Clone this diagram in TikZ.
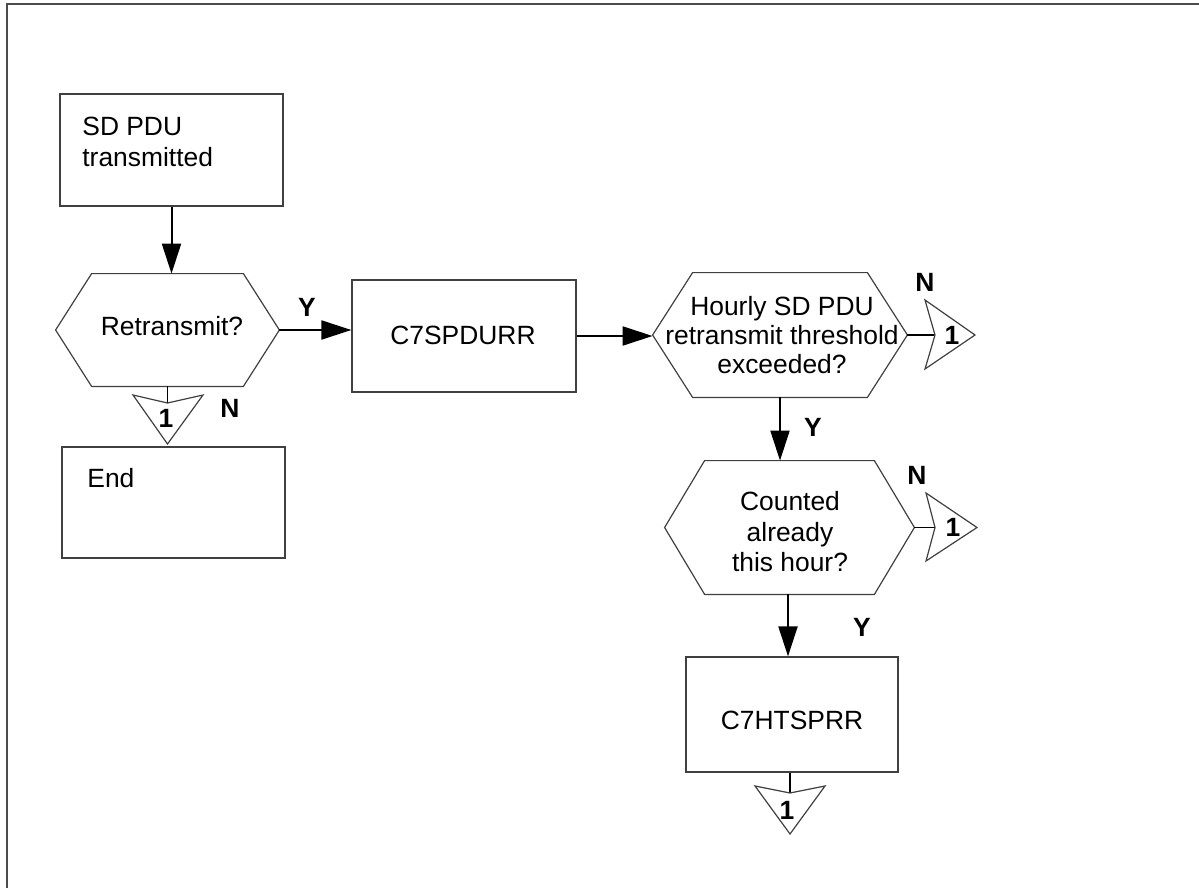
\documentclass[tikz,border=0pt]{standalone}
\usepackage{fontspec}
\setmainfont{Liberation Sans}
\usetikzlibrary{arrows.meta}
\begin{document}
\begin{tikzpicture}[x=0.5pt,y=-0.5pt,
  shapeline/.style={draw=black!75, line width=0.6pt, line join=miter},
  boxst/.style={shapeline, rectangle, inner sep=0pt},
  hexbase/.style={rectangle, inner sep=0pt},
  txt/.style={inner sep=0pt, font=\fontsize{13.2}{15}\selectfont, text=black},
  lbl/.style={inner sep=0pt, font=\fontsize{13.2}{15}\selectfont\bfseries, text=black},
  flow/.style={line width=1pt, -{Triangle[length=15pt,width=9.5pt]}},
  stem/.style={line width=0.8pt},
]
\useasboundingbox (0,0) rectangle (1199,888);
\draw[draw=black!70, line width=1pt] (6.5,888) -- (6.5,4) -- (1199,4);

% box 1
\node[boxst, minimum width=111.5pt, minimum height=56pt] (b1) at (171.5,150) {};
\node[txt, anchor=west, align=left, font=\fontsize{13.2}{15.5}\selectfont] (b1t) at (82,141.5) {SD PDU\\transmitted};

% hexagon 1
\node[hexbase, minimum width=111.5pt, minimum height=56pt] (h1) at (167.5,330) {};
\draw[shapeline] ([xshift=18pt]h1.north west) -- ([xshift=-18pt]h1.north east) -- (h1.east)
  -- ([xshift=-18pt]h1.south east) -- ([xshift=18pt]h1.south west) -- (h1.west) -- cycle;
\node[txt] (h1t) at (172,326) {Retransmit?};
\draw[flow] (b1.south) -- (b1.south |- h1.north);

% box 2
\node[boxst, minimum width=112pt, minimum height=56pt] (b2) at (464,336) {};
\node[txt] (b2t) at (463,335) {C7SPDURR};
\draw[flow] (h1.east) -- (h1.east -| b2.west);
\node[lbl] (y1) at (307,307) {Y};

% off-page connector 1
\coordinate (c1n) at (167.5,403);
\draw[stem] (h1.south) -- (c1n);
\draw[shapeline] (133,395) -- (c1n) -- (203,395) -- (167.5,444) -- cycle;
\node[lbl] (c1t) at (166,418) {1};
\node[lbl] (n1) at (230,408) {N};

% End box
\node[boxst, minimum width=111.5pt, minimum height=55.5pt] (b4) at (173.5,502.5) {};
\node[txt, anchor=west] (b4t) at (87,478) {End};

% hexagon 2
\node[hexbase, minimum width=127pt, minimum height=62pt] (h2) at (780,335) {};
\draw[shapeline] ([xshift=20pt]h2.north west) -- ([xshift=-20pt]h2.north east) -- (h2.east)
  -- ([xshift=-20pt]h2.south east) -- ([xshift=20pt]h2.south west) -- (h2.west) -- cycle;
\node[txt, align=center, font=\fontsize{13.2}{14.5}\selectfont] (h2t) at (782,335) {Hourly SD PDU\\retransmit threshold\\exceeded?};
\draw[flow] (b2.east) -- (b2.east -| h2.west);

% off-page connector 2
\coordinate (c2n) at (935,335);
\draw[stem] (h2.east) -- (c2n);
\draw[shapeline] (925,300) -- (c2n) -- (925,369) -- (975,335) -- cycle;
\node[lbl] (c2t) at (952,335) {1};
\node[lbl] (n2) at (925,282) {N};

% hexagon 3
\node[hexbase, minimum width=124.5pt, minimum height=66.5pt] (h3) at (789.5,527.5) {};
\draw[shapeline] ([xshift=20pt]h3.north west) -- ([xshift=-20pt]h3.north east) -- (h3.east)
  -- ([xshift=-20pt]h3.south east) -- ([xshift=20pt]h3.south west) -- (h3.west) -- cycle;
\node[txt, align=center, font=\fontsize{13.2}{15.25}\selectfont] (h3t) at (790,532) {Counted\\already\\this hour?};
\draw[flow] (h2.south) -- (h2.south |- h3.north);
\node[lbl] (y2) at (813,427) {Y};

% off-page connector 3
\coordinate (c3n) at (935,527.5);
\draw[stem] (h3.east) -- (c3n);
\draw[shapeline] (926,493) -- (c3n) -- (926,561) -- (977,527.5) -- cycle;
\node[lbl] (c3t) at (953,527.5) {1};
\node[lbl] (n3) at (917,475) {N};

% box 3
\node[boxst, minimum width=106pt, minimum height=57.5pt] (b3) at (792,714.5) {};
\node[txt] (b3t) at (792,720) {C7HTSPRR};
\coordinate (a3) at (788,594);
\draw[flow] (a3) -- (a3 |- b3.north);
\node[lbl] (y3) at (862,627) {Y};

% off-page connector 4
\coordinate (c4n) at (790,793);
\draw[stem] (b3.south -| c4n) -- (c4n);
\draw[shapeline] (755,786) -- (c4n) -- (825,786) -- (790,834) -- cycle;
\node[lbl] (c4t) at (787,810) {1};
\end{tikzpicture}
\end{document}
